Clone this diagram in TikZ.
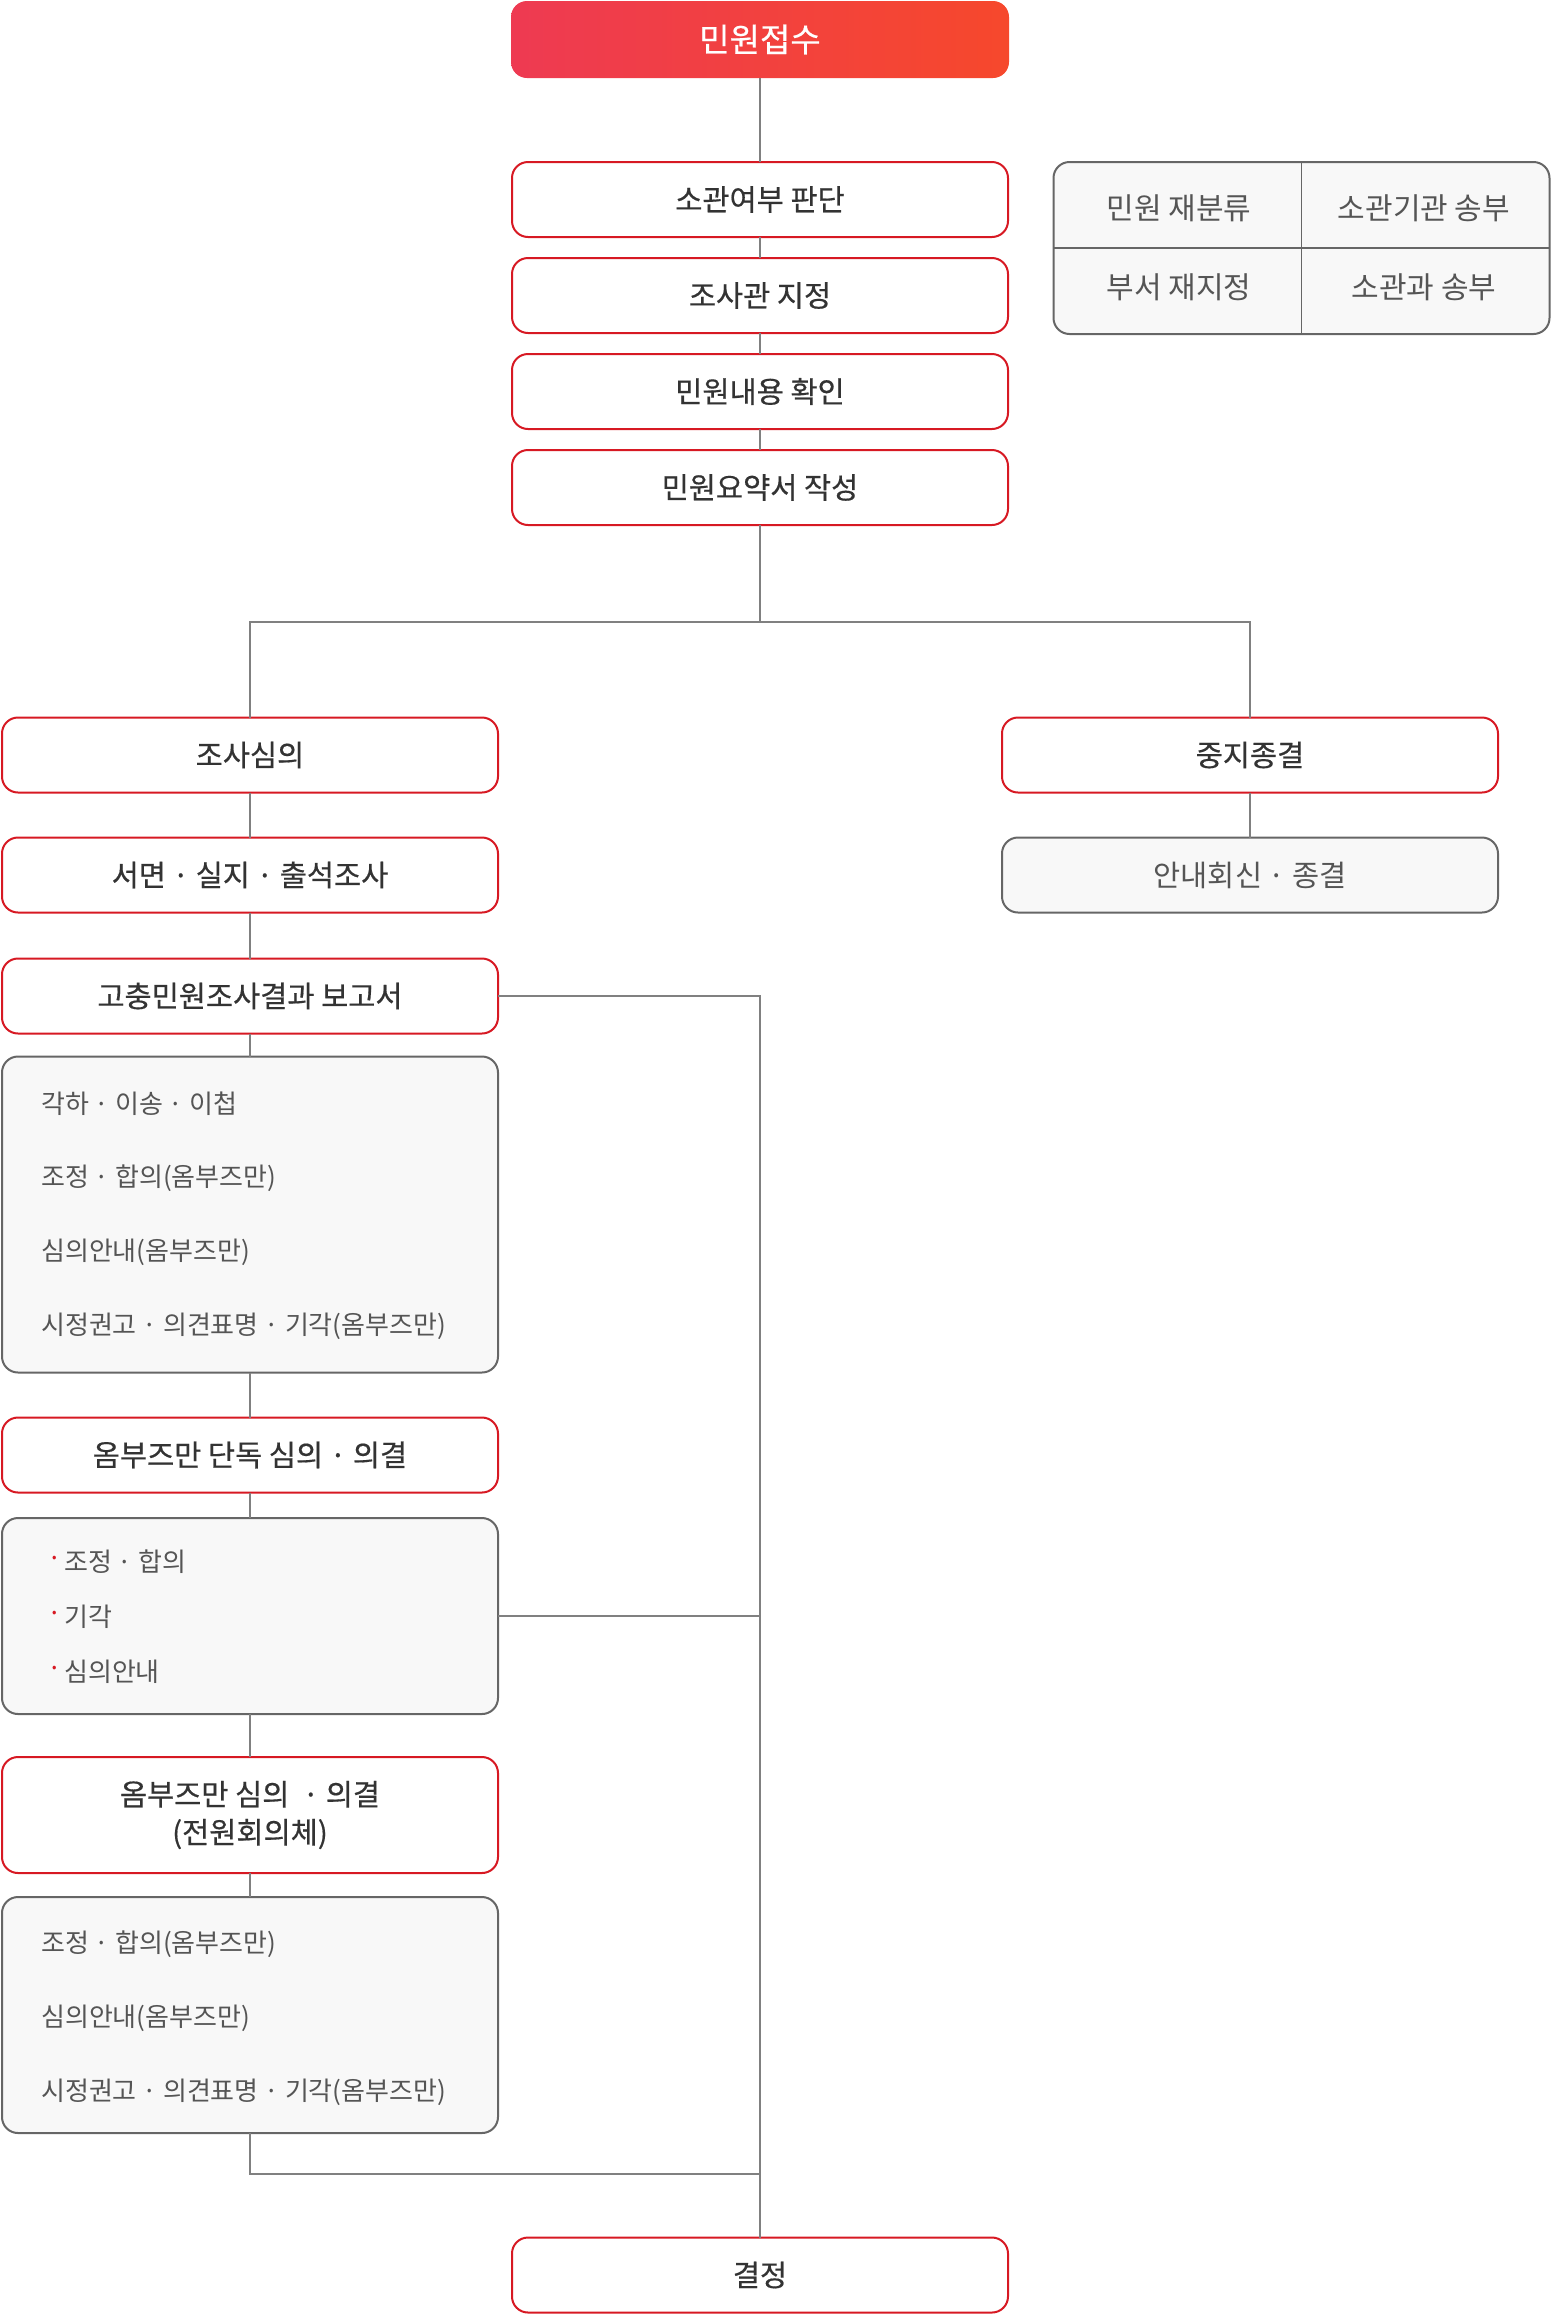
\documentclass[tikz,border=0pt]{standalone}
\usepackage{fontspec}
\setmainfont{Noto Sans CJK KR}
\newfontfamily\medfont{Noto Sans CJK KR}[FakeBold=0.5]
\definecolor{redb}{RGB}{215,25,35}
\definecolor{conn}{RGB}{128,128,128}
\definecolor{txt}{RGB}{51,51,51}
\definecolor{gtxt}{RGB}{85,85,85}
\definecolor{gfill}{RGB}{248,248,248}
\definecolor{gline}{RGB}{102,102,102}
\definecolor{gradL}{RGB}{238,58,82}
\definecolor{gradR}{RGB}{246,72,44}
\tikzset{
  redbox/.style={draw=redb, line width=2pt, fill=white, rounded corners=16pt,
    minimum width=496pt, minimum height=75pt, text=txt,
    font=\medfont\fontsize{29.5}{38}\selectfont, inner sep=0pt, outer sep=0pt, align=center},
  topbox/.style={rounded corners=16pt, left color=gradL, right color=gradR, draw=none,
    minimum width=498pt, minimum height=77pt, text=white,
    font=\medfont\fontsize{33}{38}\selectfont, inner sep=0pt, outer sep=0pt},
  graybox/.style={draw=gline, line width=2pt, fill=gfill, rounded corners=16pt,
    minimum width=496pt, inner sep=0pt, outer sep=0pt, text=gtxt,
    font=\fontsize{29.5}{34}\selectfont},
  itemtxt/.style={anchor=west, text=gtxt, font=\fontsize{26}{30}\selectfont, inner sep=0pt},
  bul/.style={anchor=west, text=redb, font=\fontsize{26}{30}\selectfont, inner sep=0pt},
  celltxt/.style={text=gtxt, font=\fontsize{30}{34}\selectfont, inner sep=0pt},
  link/.style={draw=conn, line width=1.6pt},
  divline/.style={draw=gline, line width=1.5pt},
}
\begin{document}
\begin{tikzpicture}[x=1pt,y=-1pt]
\useasboundingbox (0,0) rectangle (1552,2316);

% main column
\node[topbox] (recv) at (760,39.5) {민원접수};
\node[redbox] (jud) at (760,199.5) {소관여부 판단};
\node[redbox] (asg) at (760,295.5) {조사관 지정};
\node[redbox] (chk) at (760,391.5) {민원내용 확인};
\node[redbox] (sum) at (760,487.5) {민원요약서 작성};

% side table
\node[graybox, minimum height=172pt] (tbl) at (1301.5,248) {};
\draw[divline] (tbl.north) -- (tbl.south);
\draw[divline] (tbl.west) -- (tbl.east);
\node[celltxt] (c1) at (1179,208) {민원 재분류};
\node[celltxt] (c2) at (1424,208) {소관기관 송부};
\node[celltxt] (c3) at (1179,287) {부서 재지정};
\node[celltxt] (c4) at (1424,287) {소관과 송부};

% left column
\node[redbox] (inv) at (250,755) {조사심의};
\node[redbox] (ins) at (250,875) {서면 · 실지 · 출석조사};
\node[redbox] (rep) at (250,996) {고충민원조사결과 보고서};
\node[graybox, minimum height=316pt] (g1) at (250,1214.5) {};
\node[itemtxt] (g1a) at (41,1104) {각하 · 이송 · 이첩};
\node[itemtxt] (g1b) at (41,1178) {조정 · 합의(옴부즈만)};
\node[itemtxt] (g1c) at (41,1252) {심의안내(옴부즈만)};
\node[itemtxt] (g1d) at (41,1326) {시정권고 · 의견표명 · 기각(옴부즈만)};

\node[redbox] (omb1) at (250,1455) {옴부즈만 단독 심의 · 의결};
\node[graybox, minimum height=196pt] (g2) at (250,1616) {};
\node[bul] (b1) at (47,1562) {·};
\node[itemtxt] (g2a) at (64,1562) {조정 · 합의};
\node[bul] (b2) at (47,1617) {·};
\node[itemtxt] (g2b) at (64,1617) {기각};
\node[bul] (b3) at (47,1672) {·};
\node[itemtxt] (g2c) at (64,1672) {심의안내};

\node[redbox, minimum height=116pt] (omb2) at (250,1815) {옴부즈만 심의 \ · 의결\\(전원회의체)};
\node[graybox, minimum height=236pt] (g3) at (250,2015) {};
\node[itemtxt] (g3a) at (41,1944) {조정 · 합의(옴부즈만)};
\node[itemtxt] (g3b) at (41,2018) {심의안내(옴부즈만)};
\node[itemtxt] (g3c) at (41,2092) {시정권고 · 의견표명 · 기각(옴부즈만)};

% right column
\node[redbox] (stop) at (1250,755) {중지종결};
\node[graybox, minimum height=75pt] (rply) at (1250,875) {안내회신 · 종결};

% decision
\node[redbox] (dec) at (760,2275) {결정};

% connectors
\draw[link] (recv.south) -- (jud.north);
\draw[link] (jud.south) -- (asg.north);
\draw[link] (asg.south) -- (chk.north);
\draw[link] (chk.south) -- (sum.north);
\coordinate (br) at (760,622);
\draw[link] (sum.south) -- (br);
\draw[link] (br) -| (inv.north);
\draw[link] (br) -| (stop.north);
\draw[link] (inv.south) -- (ins.north);
\draw[link] (ins.south) -- (rep.north);
\draw[link] (rep.south) -- (g1.north);
\draw[link] (g1.south) -- (omb1.north);
\draw[link] (omb1.south) -- (g2.north);
\draw[link] (g2.south) -- (omb2.north);
\draw[link] (omb2.south) -- (g3.north);
\draw[link] (stop.south) -- (rply.north);
\draw[link] (rep.east) -- (rep.east -| dec.north) -- (dec.north);
\draw[link] (g2.east) -- (g2.east -| dec.north);
\coordinate (j3) at (250,2174);
\draw[link] (g3.south) -- (j3) -- (j3 -| dec.north);
\end{tikzpicture}
\end{document}
